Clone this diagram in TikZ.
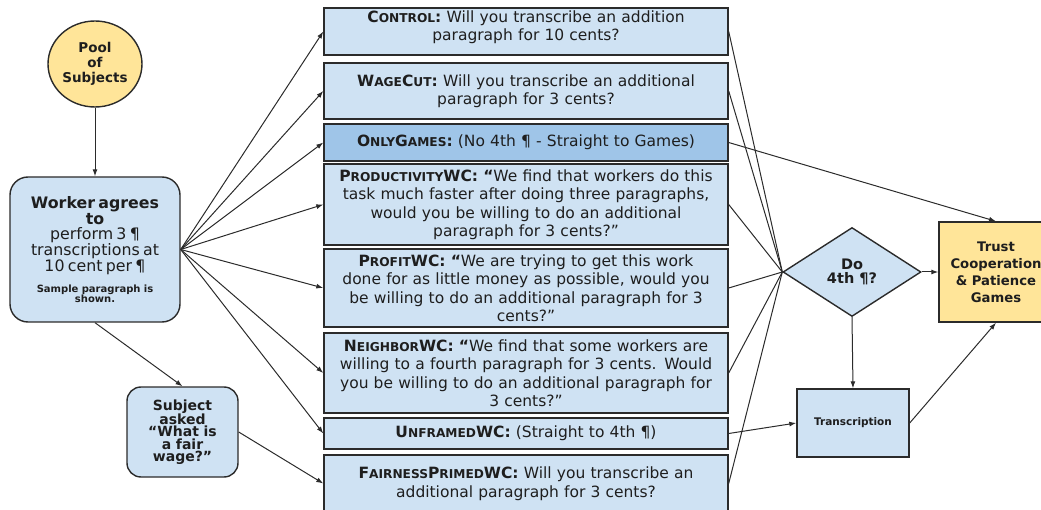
\documentclass[tikz,border=0pt]{standalone}
\usepackage{fontspec}
\setmainfont{DejaVu Sans}
\usetikzlibrary{shapes.geometric,arrows.meta}
\definecolor{lb}{HTML}{CFE2F3}
\definecolor{mb}{HTML}{9FC5E8}
\definecolor{ly}{HTML}{FFE599}
\definecolor{bd}{HTML}{2B2B2B}
\definecolor{txt}{HTML}{1E1E1E}
\newcommand\ssc[1]{{\fontsize{12.2}{10}\selectfont #1}}
\lineskiplimit=-100pt
\begin{document}
\begin{tikzpicture}[x=1pt,y=-1pt,
  every node/.style={text=txt},
  box/.style={draw=bd, line width=1.4pt, fill=lb, rectangle, inner sep=0pt, align=center},
  mid/.style={box, minimum width=404pt, text width=400pt, font=\fontsize{15.5}{18.5}\selectfont},
  conn/.style={draw=bd, line width=1pt},
  arr/.style={conn, -{Latex[length=7pt,width=5pt]}},
]
\useasboundingbox (0,0) rectangle (1041,510);

% middle column
\node[mid, minimum height=47pt] (ctrl) at (526,31.5)
  {\textbf{C\ssc{ONTROL}:} Will you transcribe an addition\\paragraph for 10 cents?\par\vspace{9pt}};
\node[mid, minimum height=56pt] (wage) at (526,91)
  {\textbf{W\ssc{AGE}C\ssc{UT}:} Will you transcribe an additional\\paragraph for 3 cents?};
\node[mid, fill=mb, minimum height=37pt] (only) at (526,142.5)
  {\textbf{O\ssc{NLY}G\ssc{AMES}:} (No 4th ¶ - Straight to Games)};
\node[mid, minimum height=81pt] (prod) at (526,204.5)
  {\textbf{P\ssc{RODUCTIVITY}WC: “}We find that workers do this\\task much faster after doing three paragraphs,\\would you be willing to do an additional\\paragraph for 3 cents?”};
\node[mid, minimum height=78pt] (prof) at (526,288)
  {\textbf{P\ssc{ROFIT}WC: “}We are trying to get this work\\done for as little money as possible, would you\\be willing to do an additional paragraph for 3\\cents?”};
\node[mid, minimum height=80pt] (neigh) at (526,373)
  {\textbf{N\ssc{EIGHBOR}WC: “}We find that some workers are\\willing to a fourth paragraph for 3 cents. Would\\you be willing to do an additional paragraph for\\3 cents?”};
\node[mid, minimum height=31pt] (unfr) at (526,433.5)
  {\textbf{U\ssc{NFRAMED}WC:} (Straight to 4th ¶)};
\node[mid, minimum height=57pt] (fair) at (526,483.5)
  {\textbf{F\ssc{AIRNESS}P\ssc{RIMED}WC:} Will you transcribe an\\additional paragraph for 3 cents?};

% left column
\node[ellipse, draw=bd, line width=1.4pt, fill=ly, minimum width=94pt, minimum height=86pt,
  inner sep=0pt, align=center, font=\fontsize{13.5}{15}\selectfont\bfseries] (pool) at (95,64)
  {Pool\\of\\Subjects};
\node[box, rounded corners=18pt, minimum width=170pt, minimum height=145pt, text width=166pt] (worker) at (95,249.5)
  {{\fontsize{15.8}{14}\selectfont\bfseries Worker agrees\\to\par}
   {\fontsize{15.8}{15}\selectfont perform 3 ¶\\transcriptions at\\10 cent per ¶\par}
   \vspace{9pt}
   {\fontsize{10}{10}\selectfont\bfseries Sample paragraph is\\shown.\par}};
\node[box, rounded corners=14pt, minimum width=111pt, minimum height=90pt, text width=107pt,
  font=\fontsize{14}{12.3}\selectfont\bfseries] (subj) at (182.5,432)
  {Subject\\asked\\“What is\\a fair\\wage?”};

% right part
\node[diamond, draw=bd, line width=1.4pt, fill=lb, minimum width=138pt, minimum height=89pt,
  inner sep=0pt, aspect=1.55, align=center, font=\fontsize{14.5}{14}\selectfont\bfseries] (do) at (852,272)
  {Do\\4th ¶?};
\node[box, fill=ly, minimum width=114pt, minimum height=100pt, text width=110pt,
  font=\fontsize{13.2}{17}\selectfont\bfseries] (trust) at (996,272)
  {Trust\\Cooperation\\\& Patience\\Games};
\node[box, minimum width=112pt, minimum height=68pt, font=\fontsize{10.5}{12}\selectfont\bfseries] (trans) at (853,423)
  {Transcription};

% connectors
\draw[arr] (pool) -- (worker);
\foreach \t in {ctrl,wage,only,prod,prof,neigh,unfr}
  \draw[arr] (worker.east) -- (\t.west);
\draw[arr] (worker.south) -- (subj.north);
\draw[arr] (subj.east) -- (fair.west);
\foreach \t in {ctrl,wage,prod,prof,neigh,fair}
  \draw[conn] (\t.east) -- (do.west);
\draw[arr] (only.east) -- (trust.north);
\draw[arr] (unfr.east) -- (trans.west);
\draw[arr] (do.east) -- (trust.west);
\draw[arr] (do.south) -- (trans.north);
\draw[arr] (trans.east) -- (trust.south);
\end{tikzpicture}
\end{document}
